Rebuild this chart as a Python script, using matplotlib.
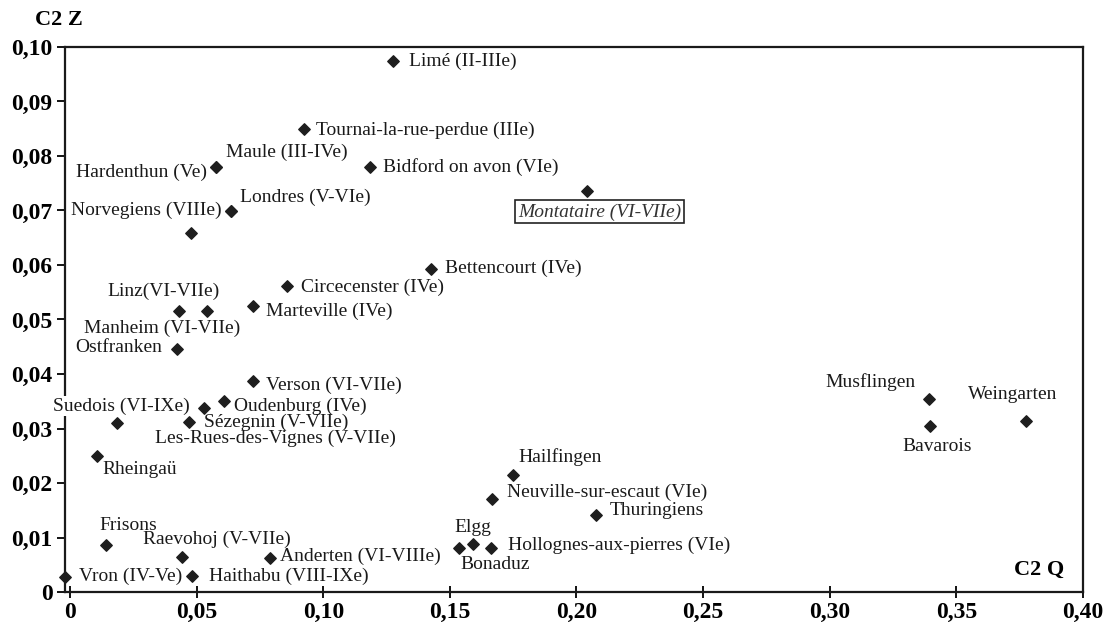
import matplotlib.pyplot as plt
from matplotlib.ticker import FuncFormatter, MultipleLocator

# C2 Q (x) and C2 Z (y) coordinates
sites = ["Limé (II-IIIe)", "Tournai-la-rue-perdue (IIIe)", "Hardenthun (Ve)", "Maule (III-IVe)",
         "Bidford on avon (VIe)", "Norvegiens (VIIIe)", "Londres (V-VIe)", "",
         "Montataire (VI-VIIe)", "Bettencourt (IVe)", "Circecenster (IVe)", "Marteville (IVe)",
         "Linz(VI-VIIe)", "Manheim (VI-VIIe)", "Ostfranken", "Verson (VI-VIIe)",
         "Oudenburg (IVe)", "Les-Rues-des-Vignes (V-VIIe)", "Sézegnin (V-VIIe)", "Suedois (VI-IXe)",
         "Rheingaü", "Frisons", "Raevohoj (V-VIIe)", "Anderten (VI-VIIIe)",
         "Vron (IV-Ve)", "Haithabu (VIII-IXe)", "Hailfingen", "Neuville-sur-escaut (VIe)",
         "Thuringiens", "Bonaduz", "Elgg", "Hollognes-aux-pierres (VIe)",
         "Musflingen", "Bavarois", "Weingarten"]
c2q = [0.1274, 0.0923, 0.0576, 0.0576,
       0.1183, 0.0635, 0.0635, 0.0477,
       0.2043, 0.1424, 0.0856, 0.0722,
       0.0430, 0.0540, 0.0422, 0.0722,
       0.0607, 0.0529, 0.0469, 0.0185,
       0.0106, 0.0142, 0.0442, 0.0789,
       -0.002, 0.0481, 0.1751, 0.1665,
       0.2079, 0.1535, 0.1590, 0.1661,
       0.3393, 0.3396, 0.3775]
c2z = [0.0974, 0.0850, 0.0780, 0.0780,
       0.0780, 0.0699, 0.0699, 0.0659,
       0.0736, 0.0593, 0.0561, 0.0525,
       0.0516, 0.0516, 0.0446, 0.0387,
       0.0350, 0.0338, 0.0312, 0.0310,
       0.0250, 0.0086, 0.0064, 0.0062,
       0.0027, 0.0029, 0.0215, 0.0171,
       0.0141, 0.0081, 0.0088, 0.0081,
       0.0354, 0.0305, 0.0314]

# label placement (pixel offsets from the point, alignment)
offsets = {
    "Limé (II-IIIe)": (16, 0, "left"),
    "Tournai-la-rue-perdue (IIIe)": (12, -2, "left"),
    "Hardenthun (Ve)": (-9, -5, "right"),
    "Maule (III-IVe)": (10, 15, "left"),
    "Bidford on avon (VIe)": (13, 0, "left"),
    "Norvegiens (VIIIe)": (-9, 1, "right"),
    "Londres (V-VIe)": (9, 14, "left"),
    "Bettencourt (IVe)": (14, 0, "left"),
    "Circecenster (IVe)": (14, -1, "left"),
    "Marteville (IVe)": (13, -5, "left"),
    "Linz(VI-VIIe)": (-15, 19, "center"),
    "Manheim (VI-VIIe)": (-45, -18, "center"),
    "Ostfranken": (-15, 1, "right"),
    "Verson (VI-VIIe)": (13, -4, "left"),
    "Oudenburg (IVe)": (10, -5, "left"),
    "Les-Rues-des-Vignes (V-VIIe)": (-49, -31, "left"),
    "Sézegnin (V-VIIe)": (15, 0, "left"),
    "Suedois (VI-IXe)": (4, 17, "center"),
    "Rheingaü": (6, -14, "left"),
    "Frisons": (-7, 20, "left"),
    "Raevohoj (V-VIIe)": (-39, 18, "left"),
    "Anderten (VI-VIIIe)": (10, 2, "left"),
    "Vron (IV-Ve)": (14, 1, "left"),
    "Haithabu (VIII-IXe)": (17, 0, "left"),
    "Hailfingen": (5, 18, "left"),
    "Neuville-sur-escaut (VIe)": (15, 6, "left"),
    "Thuringiens": (13, 5, "left"),
    "Bonaduz": (2, -17, "left"),
    "Elgg": (0, 17, "center"),
    "Hollognes-aux-pierres (VIe)": (17, 3, "left"),
    "Musflingen": (-14, 17, "right"),
    "Bavarois": (7, -21, "center"),
    "Weingarten": (-13, 26, "center"),
}

plt.rcParams['font.family'] = ['Liberation Serif', 'DejaVu Serif']

fig = plt.figure(figsize=(11.05, 6.28), dpi=100)
ax = fig.add_axes([0.0588, 0.0573, 0.9212, 0.8679])
ax.set_xlim(-0.002, 0.40)
ax.set_ylim(0, 0.10)

ax.scatter(c2q, c2z, marker='D', s=34, color='#1e1e1e', zorder=4, clip_on=False)

for name, x, y in zip(sites, c2q, c2z):
    if not name:
        continue
    if name.startswith("Montataire"):
        ax.annotate(name, (x, y), xytext=(12, -21), textcoords='offset pixels',
                    ha='center', va='center', fontsize=14, style='italic', color='#333333',
                    bbox=dict(boxstyle='square,pad=0.15', fc='white', ec='#222222', lw=1.2))
        continue
    dx, dy, ha = offsets[name]
    t = ax.annotate(name, (x, y), xytext=(dx, dy), textcoords='offset pixels',
                    ha=ha, va='center', fontsize=14, color='#1a1a1a', zorder=3)
    if name.startswith("Suedois"):
        # the label sits over the left axis line in the original
        t.set_bbox(dict(boxstyle='square,pad=0.05', fc='white', ec='none'))

fmt = FuncFormatter(lambda v, p: '0' if abs(v) < 1e-9 else f'{v:.2f}'.replace('.', ','))
ax.xaxis.set_major_locator(MultipleLocator(0.05))
ax.yaxis.set_major_locator(MultipleLocator(0.01))
ax.xaxis.set_major_formatter(fmt)
ax.yaxis.set_major_formatter(fmt)
ax.tick_params(axis='x', direction='inout', length=9, width=1.3, pad=3, labelsize=17)
ax.tick_params(axis='y', direction='out', length=6, width=1.3, pad=3, labelsize=17)
for lab in ax.get_xticklabels() + ax.get_yticklabels():
    lab.set_fontweight('bold')

for s in ax.spines.values():
    s.set_linewidth(1.6)
    s.set_color('#1a1a1a')

fig.text(35 / 1105, 1 - 20 / 628, "C2 Z", fontsize=16, fontweight='bold', va='center')
ax.text(0.982, 0.04, "C2 Q", transform=ax.transAxes, fontsize=16, fontweight='bold',
        ha='right', va='center')

fig.savefig("out.png", dpi=100)
